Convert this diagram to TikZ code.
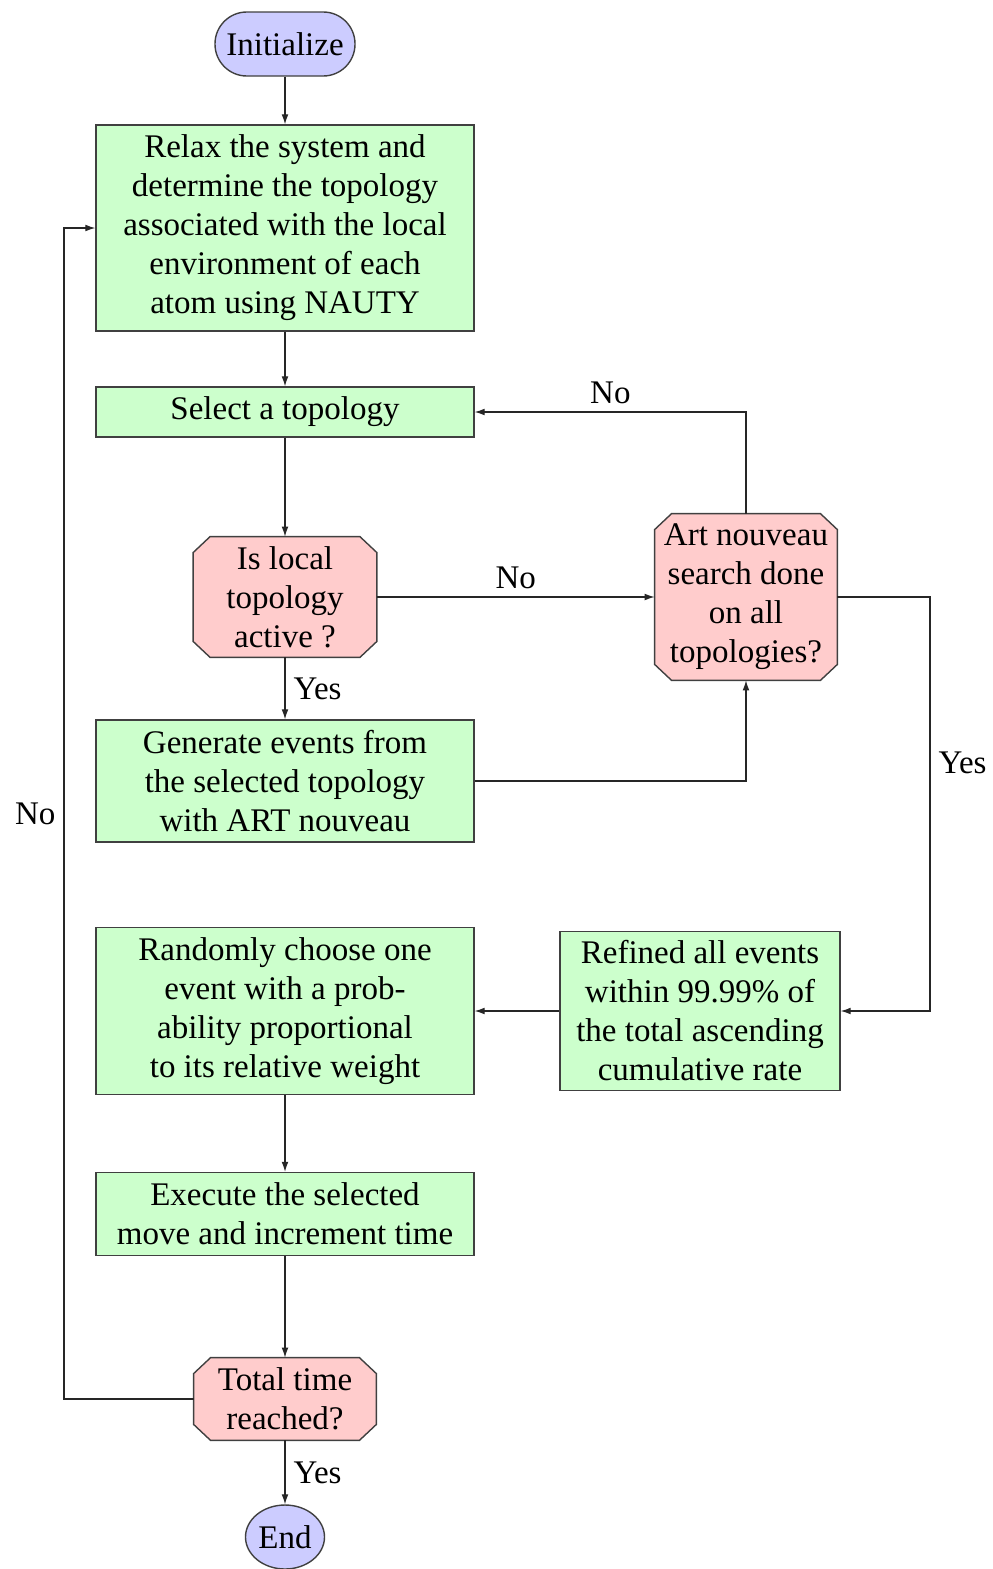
\documentclass[tikz,border=0pt]{standalone}
\usepackage{fontspec}
\setmainfont{Liberation Serif}
\usetikzlibrary{shapes.geometric,arrows.meta,backgrounds}
\definecolor{termfill}{HTML}{CCCCFF}
\definecolor{procfill}{HTML}{CCFFCC}
\definecolor{decfill}{HTML}{FFCCCC}
% octagonal outline of a decision node, drawn behind its text
\newcommand\decoutline[1]{%
  \begin{scope}[on background layer]
    \filldraw[decborder]
      ([xshift=8.5pt]#1.north west) -- ([xshift=-8.5pt]#1.north east) --
      ([yshift=-8pt]#1.north east) -- ([yshift=8pt]#1.south east) --
      ([xshift=-8.5pt]#1.south east) -- ([xshift=8.5pt]#1.south west) --
      ([yshift=8pt]#1.south west) -- ([yshift=-8pt]#1.north west) -- cycle;
  \end{scope}}
\begin{document}
\begin{tikzpicture}[x=0.5pt,y=-0.5pt,
  font=\fontsize{16.5pt}{19.5pt}\selectfont,
  base/.style={draw=black!75,line width=0.7pt,align=center,inner sep=2pt},
  term/.style={base,rectangle,rounded corners=15.9pt,fill=termfill},
  endterm/.style={base,ellipse,fill=termfill,inner sep=0pt},
  proc/.style={base,rectangle,fill=procfill},
  decision/.style={rectangle,align=center,inner sep=1pt},
  decborder/.style={draw=black!75,line width=0.7pt,fill=decfill},
  arr/.style={draw=black!85,line width=0.55pt,-{Latex[length=5pt,width=3.4pt]}},
  lbl/.style={inner sep=4pt}]
\useasboundingbox (0,0) rectangle (992,1569);

% nodes
\node[term,minimum width=70pt,minimum height=32pt] (init) at (285,44) {Initialize};
\node[proc,minimum width=189pt,minimum height=103pt] (relax) at (285,228)
  {Relax the system and\\determine the topology\\associated with the local\\environment of each\\atom using NAUTY};
\node[proc,minimum width=189pt,minimum height=25pt] (select) at (285,412) {Select a topology};
\node[decision,minimum width=91.5pt,minimum height=60pt] (active) at (285,597)
  {Is local\\topology\\active ?};
\node[decision,minimum width=91pt,minimum height=83pt] (art) at (746,597)
  {Art nouveau\\search done\\on all\\topologies?};
\node[proc,minimum width=189pt,minimum height=61pt] (gen) at (285,781)
  {Generate events from\\the selected topology\\with ART nouveau};
\node[proc,minimum width=189pt,minimum height=83.5pt] (random) at (285,1011)
  {Randomly choose one\\event with a prob-\\ability proportional\\to its relative weight};
\node[proc,minimum width=140pt,minimum height=79.5pt] (refined) at (700,1011)
  {Refined all events\\within 99.99\% of\\the total ascending\\cumulative rate};
\node[proc,minimum width=189pt,minimum height=41.5pt] (exec) at (285,1214)
  {Execute the selected\\move and increment time};
\node[decision,minimum width=91pt,minimum height=41pt] (total) at (285,1399)
  {Total time\\reached?};
\node[endterm,minimum width=39.5pt,minimum height=32pt] (end) at (285,1537) {End};

\decoutline{active}
\decoutline{art}
\decoutline{total}

% bend points of the loop-back connectors
\coordinate (rbend) at (930,597);
\coordinate (lbend) at (64,1399);

% connectors
\draw[arr] (init) -- (relax);
\draw[arr] (relax) -- (select);
\draw[arr] (select) -- (active);
\draw[arr] (active) -- node[lbl,right]{Yes} (gen);
\draw[arr] (active) -- node[lbl,above]{No} (art);
\draw[arr] (gen.east) -| (art.south);
\draw[arr] (art.north) |- node[lbl,pos=0.75,above]{No} (select.east);
\draw[arr] (art.east) -- (rbend) |- node[lbl,pos=0.2,right]{Yes} (refined.east);
\draw[arr] (refined) -- (random);
\draw[arr] (random) -- (exec);
\draw[arr] (exec) -- (total);
\draw[arr] (total) -- node[lbl,right]{Yes} (end);
\draw[arr] (total.west) -- (lbend) |- node[lbl,pos=0.25,left]{No} (relax.west);
\end{tikzpicture}
\end{document}
